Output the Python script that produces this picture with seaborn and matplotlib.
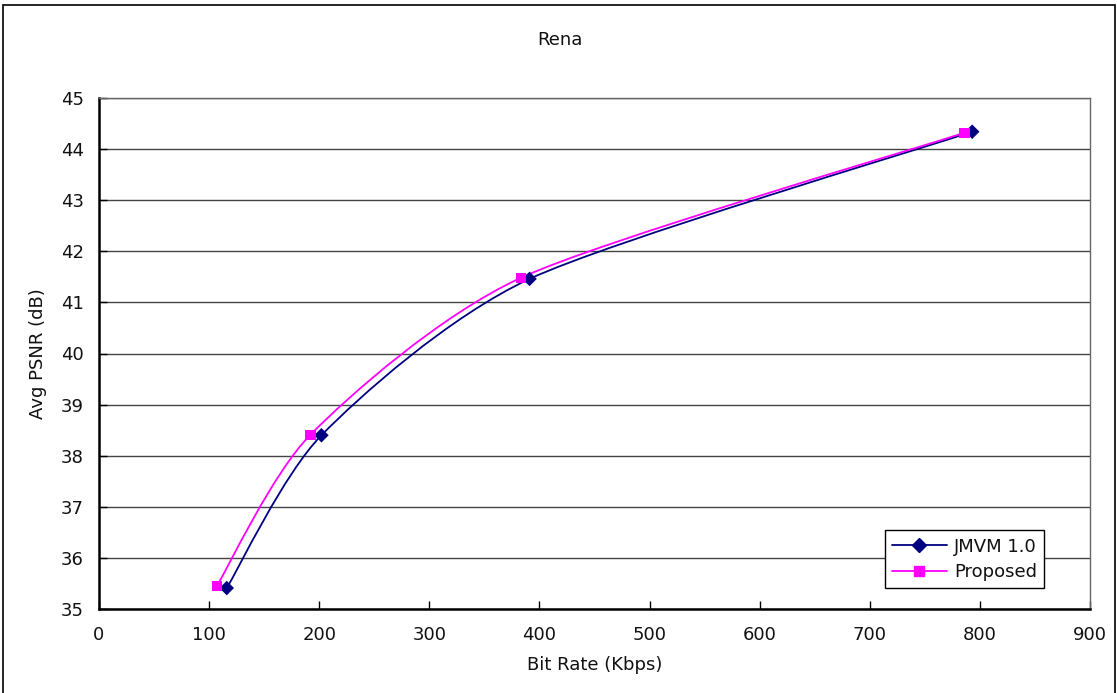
import numpy as np
import pandas as pd
import matplotlib
matplotlib.use('Agg')
import matplotlib.pyplot as plt
import seaborn as sns
from matplotlib.path import Path
from matplotlib.patches import PathPatch, Rectangle
from matplotlib.lines import Line2D

# Data
series_names = ['JMVM 1.0', 'Proposed']
jmvm_rate = [116, 202, 391, 793]
jmvm_psnr = [35.41, 38.40, 41.46, 44.34]
prop_rate = [107, 192, 383, 786]
prop_psnr = [35.45, 38.41, 41.48, 44.32]

colors = {'JMVM 1.0': '#000080', 'Proposed': '#FF00FF'}
markers = {'JMVM 1.0': 'D', 'Proposed': 's'}

df = pd.concat([
    pd.DataFrame({'rate': jmvm_rate, 'psnr': jmvm_psnr, 'series': 'JMVM 1.0'}),
    pd.DataFrame({'rate': prop_rate, 'psnr': prop_psnr, 'series': 'Proposed'}),
], ignore_index=True)


def smooth_path(x, y, k=1 / 8.0):
    # Excel-like smoothed line: cubic Bezier through the points
    p = np.column_stack([x, y]).astype(float)
    n = len(p)
    verts = [p[0]]
    codes = [Path.MOVETO]
    for i in range(n - 1):
        prev_p = p[i - 1] if i > 0 else p[i]
        next_p = p[i + 2] if i + 2 < n else p[i + 1]
        c1 = p[i] + (p[i + 1] - prev_p) * k
        c2 = p[i + 1] - (next_p - p[i]) * k
        verts += [c1, c2, p[i + 1]]
        codes += [Path.CURVE4] * 3
    return Path(verts, codes)


sns.set_theme(style='white')
plt.rcParams['font.family'] = ['DejaVu Sans']

fig = plt.figure(figsize=(11.17, 6.93), dpi=100)
ax = fig.add_axes([99 / 1117, 1 - 609 / 693, 991 / 1117, 511 / 693])

for name in series_names:
    sub = df[df['series'] == name]
    ax.add_patch(PathPatch(smooth_path(sub['rate'], sub['psnr']), facecolor='none',
                           edgecolor=colors[name], lw=1.3, zorder=3))

sns.scatterplot(data=df, x='rate', y='psnr', hue='series', style='series',
                palette=colors, markers=markers, s=55, edgecolor='none',
                legend=False, ax=ax, zorder=4)

ax.set_xlim(0, 900)
ax.set_ylim(35, 45)
ax.set_xticks(np.arange(0, 901, 100))
ax.set_yticks(np.arange(35, 46, 1))
ax.yaxis.grid(True, color='#444444', lw=1)
ax.xaxis.grid(False)
ax.tick_params(axis='both', direction='in', length=6, width=1, color='black',
               labelsize=13, labelcolor='#111111', left=True, bottom=True)
ax.tick_params(axis='x', pad=12)
ax.tick_params(axis='y', pad=11)
for s in ['left', 'bottom']:
    ax.spines[s].set_color('black')
    ax.spines[s].set_linewidth(1.8)
for s in ['top', 'right']:
    ax.spines[s].set_color('#666666')
    ax.spines[s].set_linewidth(1)

ax.set_xlabel('Bit Rate (Kbps)', fontsize=13, color='#111111', labelpad=9)
ax.set_ylabel('Avg PSNR (dB)', fontsize=13, color='#111111', labelpad=10)
fig.text(560 / 1117, 1 - 40 / 693, 'Rena', ha='center', va='center', fontsize=13, color='#111111')

handles = [Line2D([0], [0], color=colors[n], marker=markers[n], lw=1.3,
                  markersize=7 if n == 'JMVM 1.0' else 7.5) for n in series_names]
leg = ax.legend(handles, series_names, loc='lower right',
                bbox_to_anchor=(0.9536, 0.041), borderaxespad=0, fontsize=13, frameon=True,
                fancybox=False, edgecolor='black', framealpha=1,
                handlelength=3.0, borderpad=0.4, labelspacing=0.4, handletextpad=0.4)
leg.get_frame().set_linewidth(1)
for t in leg.get_texts():
    t.set_color('#111111')

fig.patches.append(Rectangle((3 / 1117, -0.01), 1112 / 1117, (693 - 5) / 693 + 0.01,
                             transform=fig.transFigure, fill=False, edgecolor='black', lw=1.2))

plt.savefig('out.png', dpi=100)
plt.close()
